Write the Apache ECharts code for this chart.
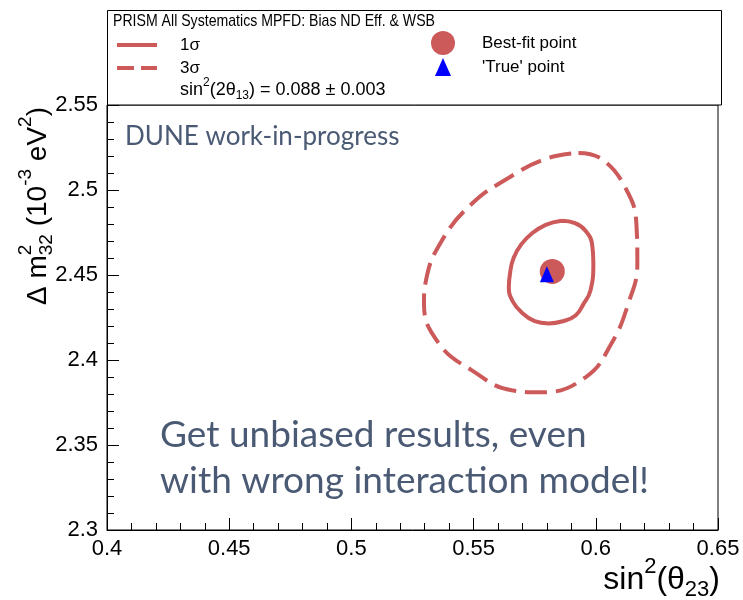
<!DOCTYPE html>
<html>
<head>
<meta charset="utf-8">
<script src="https://cdn.jsdelivr.net/npm/echarts@6/dist/echarts.min.js"></script>
<style>
  html, body { margin: 0; padding: 0; background: #fff; }
  #chart { width: 743px; height: 600px; }
</style>
</head>
<body>
<div id="chart"></div>
<script>
// 1 sigma allowed region (closed contour), sin^2(theta23) vs dm^2_32
const sigma1X = [0.5860, 0.5915, 0.5958, 0.5985, 0.5990, 0.5978, 0.5950, 0.5917, 0.5865, 0.5807, 0.5750, 0.5697, 0.5660, 0.5644, 0.5650, 0.5664, 0.5695, 0.5737, 0.5795, 0.5860];
const sigma1Y = [2.4819, 2.4805, 2.4761, 2.4680, 2.4567, 2.4408, 2.4330, 2.4262, 2.4228, 2.4215, 2.4228, 2.4279, 2.4345, 2.4426, 2.4520, 2.4602, 2.4680, 2.4743, 2.4795, 2.4819];

// 3 sigma allowed region (closed contour)
const sigma3X = [0.5929, 0.6023, 0.6121, 0.6166, 0.6170, 0.6133, 0.6064, 0.5958, 0.5778, 0.5656, 0.5493, 0.5358, 0.5297, 0.5305, 0.5370, 0.5493, 0.5644, 0.5795, 0.5929];
const sigma3Y = [2.5218, 2.5183, 2.5013, 2.4802, 2.4567, 2.4332, 2.4097, 2.3898, 2.3810, 2.3822, 2.3939, 2.4097, 2.4332, 2.4467, 2.4702, 2.4919, 2.5072, 2.5183, 2.5218];

const bestFit = [0.5822, 2.4521];
const truePoint = [0.5800, 2.4505];

const xRange = [0.4, 0.65];
const yRange = [2.3, 2.55];
const tickStep = 0.05;

const legendTitle = 'PRISM All Systematics MPFD: Bias ND Eff. & WSB';
const legendLabels = ['1\u03c3', '3\u03c3', 'Best-fit point', '\'True\' point'];
const watermark = 'DUNE work-in-progress';
const message = ['Get unbiased results, even', 'with wrong interaction model!'];

const contourColor = '#cd5a5a';
const noteColor = '#4b5a74';
const textFont = 'Liberation Sans';
const noteFont = 'Lato';

const zip = (xs, ys) => xs.map((x, i) => [x, ys[i]]);

// builds a text group with superscripts / subscripts laid out along the local x axis
const measureCtx = document.createElement('canvas').getContext('2d');
function mathText(parts, size, fam, color, z) {
  const small = Math.round(size * 0.68);
  let x = 0;
  const children = [];
  const add = (t, fs, dy) => {
    measureCtx.font = fs + 'px "' + fam + '"';
    const w = measureCtx.measureText(t).width;
    children.push({
      type: 'text', x: x, y: dy, z: z,
      style: { text: t, font: fs + 'px "' + fam + '"', fill: color, align: 'left', verticalAlign: 'middle' }
    });
    return w;
  };
  parts.forEach(p => {
    if (p.k === 'n') x += add(p.t, size, 0);
    else if (p.k === 'sup') x += add(p.t, small, -size * 0.42);
    else if (p.k === 'sub') x += add(p.t, small, size * 0.32);
    else if (p.k === 'supsub') {
      const w1 = add(p.t, small, -size * 0.42);
      const w2 = add(p.t2, small, size * 0.32);
      x += Math.max(w1, w2);
    }
  });
  return { children, width: x };
}

const yTitle = mathText([
  { k: 'n', t: '\u0394 m' },
  { k: 'supsub', t: '2', t2: '32' },
  { k: 'n', t: ' (10' },
  { k: 'sup', t: '-3' },
  { k: 'n', t: ' eV' },
  { k: 'sup', t: '2' },
  { k: 'n', t: ')' }
], 28, textFont, '#000', 11);

const xTitle = mathText([
  { k: 'n', t: 'sin' },
  { k: 'sup', t: '2' },
  { k: 'n', t: '(\u03b8' },
  { k: 'sub', t: '23' },
  { k: 'n', t: ')' }
], 32, textFont, '#000', 11);

const sinTheta13 = mathText([
  { k: 'n', t: 'sin' },
  { k: 'sup', t: '2' },
  { k: 'n', t: '(2\u03b8' },
  { k: 'sub', t: '13' },
  { k: 'n', t: ') = 0.088 \u00b1 0.003' }
], 18, textFont, '#000', 12);

const chart = echarts.init(document.getElementById('chart'), null, { renderer: 'canvas' });

const legendText = (t, x, y) => ({
  type: 'text', x: x, y: y, z: 12,
  style: { text: t, font: '17px "' + textFont + '"', fill: '#000', align: 'left', verticalAlign: 'middle' }
});

chart.setOption({
  animation: false,
  backgroundColor: '#fff',
  grid: {
    left: 107, right: 25, top: 105, bottom: 70,
    show: true, borderColor: '#000', borderWidth: 1, backgroundColor: 'transparent'
  },
  xAxis: {
    type: 'value', min: xRange[0], max: xRange[1], interval: tickStep,
    axisLine: { show: true, onZero: false, lineStyle: { color: '#000', width: 1 } },
    axisTick: { show: true, inside: true, length: 12, lineStyle: { color: '#000' } },
    minorTick: { show: true, splitNumber: 5, length: 7, lineStyle: { color: '#000' } },
    splitLine: { show: false },
    axisLabel: { color: '#000', fontSize: 22, fontFamily: textFont, margin: 8 }
  },
  yAxis: {
    type: 'value', min: yRange[0], max: yRange[1], interval: tickStep,
    axisLine: { show: true, onZero: false, lineStyle: { color: '#000', width: 1 } },
    axisTick: { show: true, inside: true, length: 12, lineStyle: { color: '#000' } },
    minorTick: { show: true, splitNumber: 5, length: 7, lineStyle: { color: '#000' } },
    splitLine: { show: false },
    axisLabel: { color: '#000', fontSize: 22, fontFamily: textFont, margin: 9 }
  },
  series: [
    {
      name: '3sigma', type: 'line', data: zip(sigma3X, sigma3Y), smooth: 0.45,
      symbol: 'none', lineStyle: { color: contourColor, width: 4, type: [22, 9] }, z: 3
    },
    {
      name: '1sigma', type: 'line', data: zip(sigma1X, sigma1Y), smooth: 0.45,
      symbol: 'none', lineStyle: { color: contourColor, width: 4 }, z: 3
    },
    {
      name: 'best', type: 'scatter', data: [bestFit], symbol: 'circle', symbolSize: 25,
      itemStyle: { color: contourColor, opacity: 1 }, z: 4
    },
    {
      name: 'true', type: 'scatter', data: [truePoint], symbol: 'triangle', symbolSize: [14, 16],
      itemStyle: { color: '#0000ff', opacity: 1 }, z: 5
    }
  ],
  graphic: [
    // legend box
    { type: 'rect', shape: { x: 107.5, y: 10.5, width: 614, height: 94.5 },
      style: { fill: '#fff', stroke: '#000', lineWidth: 1 }, z: 10 },
    { type: 'text', x: 113, y: 21, z: 12, scaleX: 0.83,
      style: { text: legendTitle, font: '17px "' + textFont + '"', fill: '#000', align: 'left', verticalAlign: 'middle' } },
    { type: 'line', shape: { x1: 117, y1: 45, x2: 157, y2: 45 }, z: 12,
      style: { stroke: contourColor, lineWidth: 4 } },
    { type: 'line', shape: { x1: 117, y1: 68, x2: 157, y2: 68 }, z: 12,
      style: { stroke: contourColor, lineWidth: 4, lineDash: [17, 7] } },
    legendText(legendLabels[0], 180, 45),
    legendText(legendLabels[1], 180, 68),
    { type: 'group', x: 180, y: 90, z: 12, children: sinTheta13.children },
    { type: 'circle', shape: { cx: 443, cy: 43, r: 12 }, z: 12, style: { fill: contourColor } },
    { type: 'polygon', shape: { points: [[443, 58], [435, 76], [451, 76]] }, z: 12, style: { fill: '#0000ff' } },
    legendText(legendLabels[2], 482, 43),
    legendText(legendLabels[3], 482, 67),
    // axis titles
    { type: 'group', x: 38, y: 305, rotation: Math.PI / 2, children: yTitle.children, z: 11 },
    { type: 'group', x: 720 - xTitle.width, y: 580, children: xTitle.children, z: 11 },
    // annotations
    { type: 'text', x: 125, y: 137, z: 11,
      style: { text: watermark, font: '26px "' + noteFont + '"', fill: noteColor, align: 'left', verticalAlign: 'middle' } },
    { type: 'text', x: 160, y: 435, z: 11,
      style: { text: message[0], font: '37px "' + noteFont + '"', fill: noteColor, align: 'left', verticalAlign: 'middle' } },
    { type: 'text', x: 160, y: 481, z: 11,
      style: { text: message[1], font: '37px "' + noteFont + '"', fill: noteColor, align: 'left', verticalAlign: 'middle' } }
  ]
});
</script>
</body>
</html>
